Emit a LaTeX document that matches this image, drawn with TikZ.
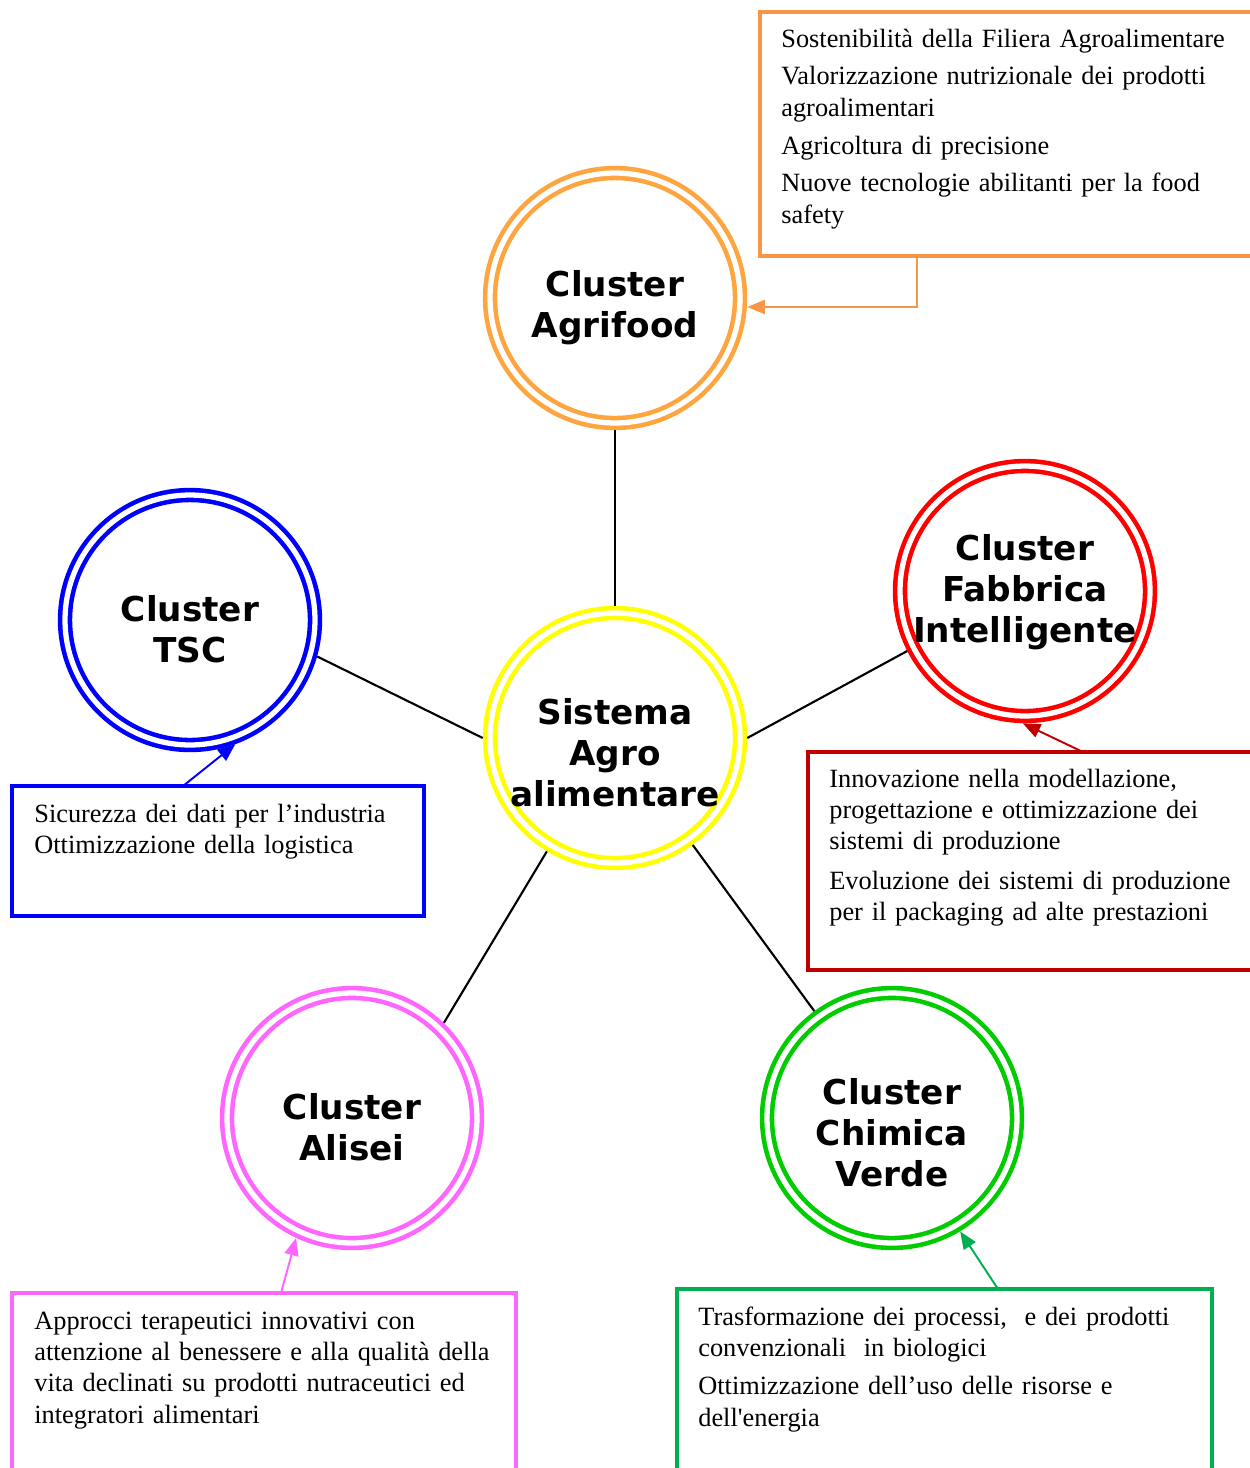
\documentclass[tikz,border=0pt]{standalone}
\usepackage{fontspec}
\setmainfont{Liberation Serif}
\newfontfamily\ringfont{DejaVu Sans}
\usetikzlibrary{arrows.meta,fit}
\definecolor{corange}{HTML}{FFA53F}
\definecolor{borange}{HTML}{F79646}
\definecolor{cred}{HTML}{FF0000}
\definecolor{bred}{HTML}{C00000}
\definecolor{cblue}{HTML}{0000FF}
\definecolor{cyellow}{HTML}{FFFF00}
\definecolor{cpink}{HTML}{FF66FF}
\definecolor{cgreen}{HTML}{00CC00}
\definecolor{bgreen}{HTML}{00B050}
\begin{document}
\begin{tikzpicture}[x=0.02cm,y=-0.02cm,
  ring/.style={circle, draw=#1, line width=2.6pt, double=white, double distance=3pt,
    minimum size=5.0cm, inner sep=0pt, outer sep=4.15pt},
  ringtext/.style={align=center, inner sep=0pt,
    font=\ringfont\bfseries\fontsize{19.5}{23.3}\selectfont},
  link/.style={draw=black, line width=1.2pt},
  tbox/.style={draw=#1, line width=1.8pt, rectangle, inner sep=0pt},
  boxtext/.style={anchor=base west, inner sep=0pt, text width=10cm, align=left,
    font=\fontsize{15}{17.9}\selectfont},
  tip/.style={draw=#1, line width=1.1pt, -{Triangle[length=10pt,width=8pt]}}
]
\useasboundingbox (0,0) rectangle (1250,1468);
\clip (0,0) rectangle (1250,1468);
\fill[white] (0,0) rectangle (1250,1468);

% circles
\node[ring=corange] (agri) at (615,298) {};
\node[ring=cyellow] (sis) at (615,738) {};
\node[ring=cblue] (tsc) at (190,620) {};
\node[ring=cred] (fab) at (1025,591) {};
\node[ring=cpink] (ali) at (352,1118) {};
\node[ring=cgreen] (chi) at (892,1118) {};

% circle labels
\node[ringtext] (agriT) at (615,308) {Cluster\\Agrifood};
\node[ringtext] (sisT) at (615,753) {Sistema\\Agro\\alimentare};
\node[ringtext] (tscT) at (190,629) {Cluster\\TSC};
\node[ringtext] (fabT) at (1025,592) {Cluster\\Fabbrica\\Intelligente};
\node[ringtext] (aliT) at (352,1127) {Cluster\\Alisei};
\node[ringtext] (chiT) at (892,1133) {Cluster\\Chimica\\Verde};

% connectors
\draw[link] (agri.south) -- (sis.north);
\draw[link] (tsc.-16) -- (sis.180);
\draw[link] (fab.207) -- (sis.0);
\draw[link] (ali.46) -- (sis.239);
\draw[link] (chi.126) -- (sis.306);

% boxes
\node[tbox=borange, fit={(760,12) (1265,256)}] (obox) {};
\node[tbox=bred, fit={(808,752) (1265,970)}] (rbox) {};
\node[tbox=cblue, fit={(12,786) (424,916)}] (bbox) {};
\node[tbox=cpink, fit={(12,1293) (516,1485)}] (pbox) {};
\node[tbox=bgreen, fit={(677,1289) (1212,1485)}] (gbox) {};

% box texts
\node[boxtext] (oT) at (781,47) {Sostenibilità della Filiera Agroalimentare\\[3.6pt]
Valorizzazione nutrizionale dei prodotti\\ agroalimentari\\[3.6pt]
Agricoltura di precisione\\[3.6pt]
Nuove tecnologie abilitanti per la food\\ safety};
\node[boxtext] (rT) at (829,787) {Innovazione nella modellazione,\\
progettazione e ottimizzazione dei\\ sistemi di produzione\\[4.5pt]
Evoluzione dei sistemi di produzione\\ per il packaging ad alte prestazioni};
\node[boxtext] (bT) at (34,822) {Sicurezza dei dati per l’industria\\ Ottimizzazione della logistica};
\node[boxtext] (pT) at (34,1329) {Approcci terapeutici innovativi con\\
attenzione al benessere e alla qualità della\\
vita declinati su prodotti nutraceutici ed\\ integratori alimentari};
\node[boxtext] (gT) at (698,1325) {Trasformazione dei processi,\ \ e dei prodotti\\
convenzionali\ \ in biologici\\[4pt]
Ottimizzazione dell’uso delle risorse e\\ dell\textquotesingle energia};

% arrows from boxes to circles
\coordinate (oA) at (917,256);
\coordinate (oB) at (917,307);
\draw[tip=borange] (oA) -- (oB) -- (oB -| agri.east);
\coordinate (rA) at (1083,752);
\draw[tip=bred] (rA) -- (fab.-91);
\coordinate (bA) at (183,786);
\draw[tip=cblue] (bA) -- (tsc.-70);
\coordinate (pA) at (281,1293);
\draw[tip=cpink] (pA) -- (ali.245);
\coordinate (gA) at (998,1289);
\draw[tip=bgreen] (gA) -- (chi.-59);
\end{tikzpicture}
\end{document}
